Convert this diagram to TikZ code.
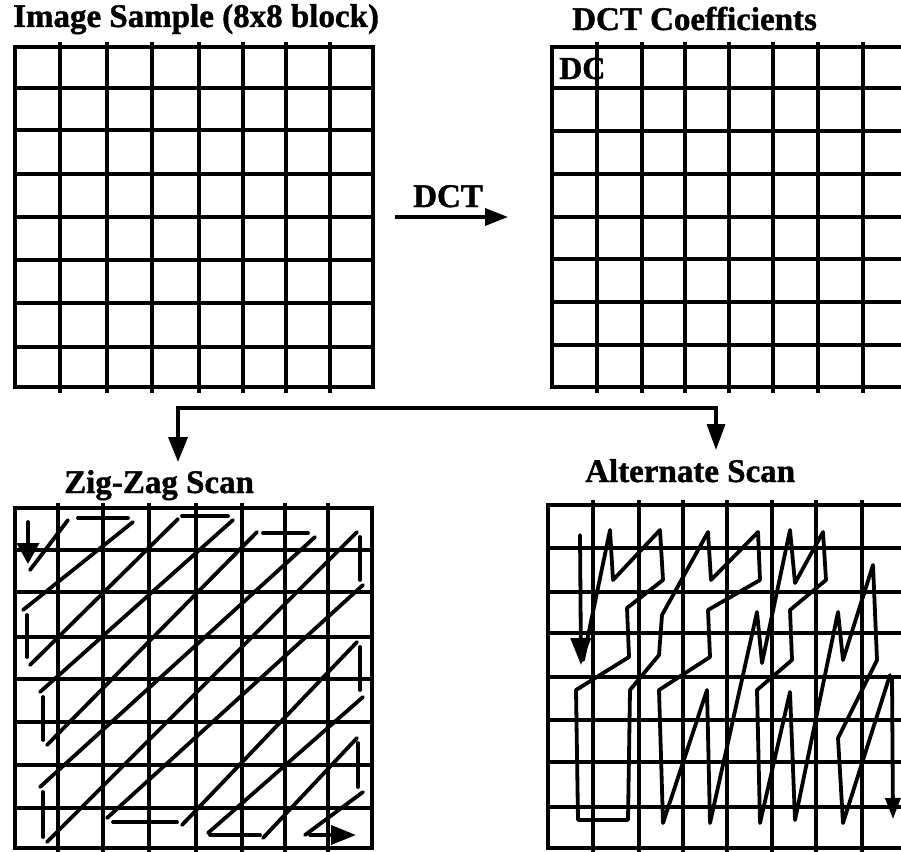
\documentclass[tikz,border=0pt]{standalone}
\usepackage{fontspec}
\setmainfont[BoldFeatures={FakeBold=1.2}]{Liberation Serif}
\usetikzlibrary{arrows.meta}
\begin{document}
\begin{tikzpicture}[x=1pt,y=-1pt,
  gridline/.style={line width=3.5pt},
  frame/.style={draw, line width=4pt, rectangle, inner sep=0pt, outer sep=0pt, anchor=north west},
  title/.style={font=\fontsize{33}{33}\selectfont\bfseries, inner sep=0pt, anchor=base west},
  scan/.style={line width=3.8pt, line cap=round, line join=round},
  conn/.style={line width=3.5pt},
]
\useasboundingbox (0,0) rectangle (901,851);

% ---- frames of the four 8x8 blocks
\node[frame, minimum width=358pt, minimum height=340pt] (imgblock) at (15,47) {};
\node[frame, minimum width=355pt, minimum height=340pt] (dctblock) at (552,47) {};
\node[frame, minimum width=357pt, minimum height=340pt] (zzblock) at (15,508) {};
\node[frame, minimum width=358pt, minimum height=343pt] (altblock) at (548,505) {};

% ---- inner grid lines
\foreach \x in {60,107,152,199,243,286,330} \draw[gridline] (\x,42) -- (\x,393);
\foreach \y in {88,130,174,217,260,303,347} \draw[gridline] (15,\y) -- (373,\y);

\foreach \x in {597,642,685,729,773,818,863} \draw[gridline] (\x,42) -- (\x,393);
\foreach \y in {88,131,174,217,259,302,345} \draw[gridline] (552,\y) -- (907,\y);

\foreach \x in {58,103,149,196,242,285,328} \draw[gridline] (\x,503) -- (\x,853);
\foreach \y in {550,592,637,679,722,765,808} \draw[gridline] (15,\y) -- (372,\y);

\foreach \x in {593,639,683,727,772,816,862} \draw[gridline] (\x,500) -- (\x,853);
\foreach \y in {548,592,633,677,720,762,807} \draw[gridline] (548,\y) -- (906,\y);

% ---- titles
\node[title] (imgtitle) at (13,27) {Image Sample (8x8 block)};
\node[title] (dcttitle) at (572,30) {DCT Coefficients};
\node[title, font=\fontsize{32}{32}\selectfont\bfseries] (dclabel) at (559,79) {DC};
\node[title] (dctlabel) at (413,207) {DCT};
\node[title] (zztitle) at (64,493) {Zig-Zag Scan};
\node[title] (alttitle) at (585,482) {Alternate Scan};

% ---- connectors
\draw[conn, -{Triangle[length=23pt,width=17pt]}]
  ([xshift=22pt]imgblock.east) -- ([xshift=-44pt]dctblock.west);
\coordinate (splitL) at (178,408);
\coordinate (splitR) at (716,408);
\coordinate (zzin) at (178,462);
\coordinate (altin) at (716,450);
\draw[conn, {Triangle[length=25pt,width=19pt]}-{Triangle[length=26pt,width=18pt]}]
  (zzin) -- (splitL) -- (splitR) -- (altin);

% ---- zig-zag scan
\draw[scan, -{Triangle[length=21pt,width=22pt]}] (28,522) -- (28,564);
\draw[scan] (30,570) -- (68,520);
\draw[scan] (78,518) -- (128,518);
\draw[scan] (133,522) -- (23,610);
\draw[scan] (27,615) -- (27,657);
\draw[scan] (30,665) -- (178,519);
\draw[scan] (182,516) -- (228,516);
\draw[scan] (233,520) -- (40,692);
\draw[scan] (43,697) -- (43,740);
\draw[scan] (47,745) -- (257,532);
\draw[scan] (263,533) -- (308,533);
\draw[scan] (315,537) -- (40,787);
\draw[scan] (43,792) -- (43,837);
\draw[scan] (47,842) -- (357,532);
\draw[scan] (360,537) -- (360,580);
\draw[scan] (363,585) -- (107,818);
\draw[scan] (113,822) -- (177,822);
\draw[scan] (182,825) -- (357,642);
\draw[scan] (360,647) -- (360,690);
\draw[scan] (363,697) -- (208,833);
\draw[scan] (210,835) -- (260,835);
\draw[scan] (263,838) -- (357,738);
\draw[scan] (358,743) -- (358,787);
\draw[scan] (363,792) -- (305,835);
\draw[scan, -{Triangle[length=25pt,width=19pt]}] (310,835) -- (356,835);

% ---- alternate scan
\draw[scan, -{Triangle[length=27pt,width=20pt]}] (580,535) -- (581,665);
\draw[scan] (583,660) -- (610,530) -- (613,580) -- (660,530) -- (663,580)
  -- (627,608) -- (629,657) -- (576,690) -- (578,820) -- (628,820) -- (630,690)
  -- (659,655) -- (662,615) -- (708,532) -- (711,580) -- (758,532) -- (760,580)
  -- (708,610) -- (710,657) -- (659,690) -- (663,823) -- (707,690) -- (710,823)
  -- (757,612) -- (762,663) -- (790,530) -- (795,583) -- (823,532) -- (826,580)
  -- (790,610) -- (792,660) -- (757,690) -- (760,823) -- (790,692) -- (795,820)
  -- (838,612) -- (843,660) -- (873,565) -- (877,660) -- (838,738) -- (843,823)
  -- (890,675);
\draw[scan, -{Triangle[length=21pt,width=15pt]}] (892,677) -- (893,819);
\end{tikzpicture}
\end{document}
